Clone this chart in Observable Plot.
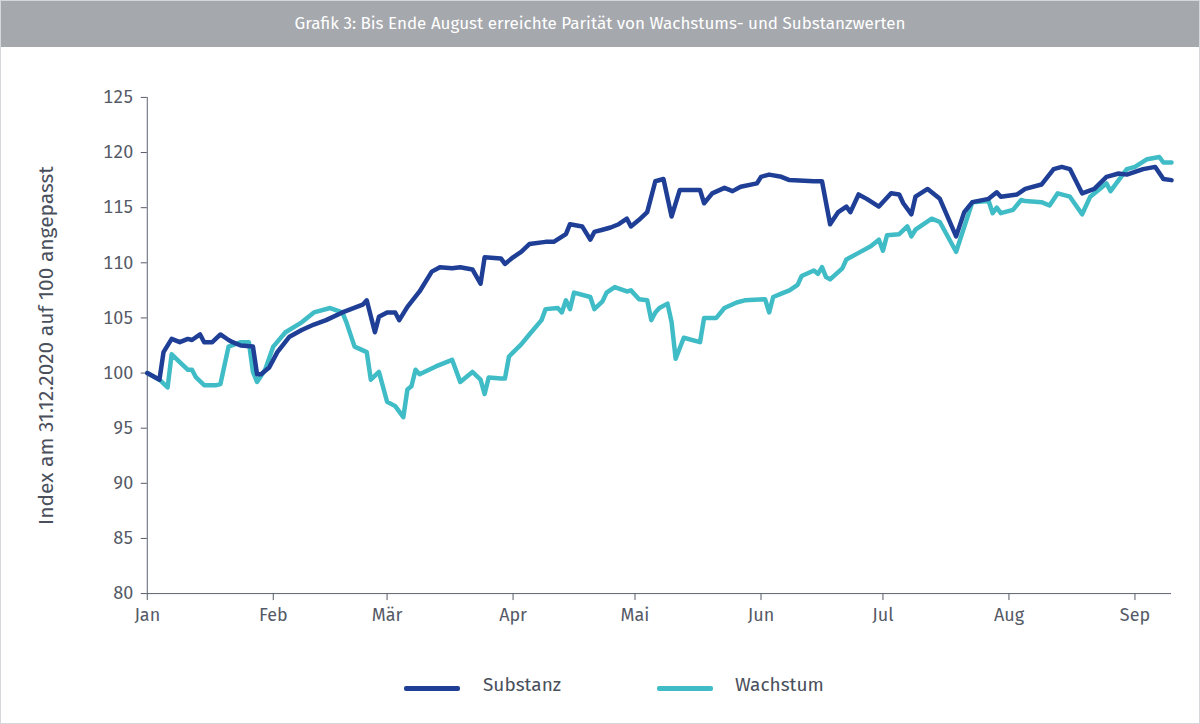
<!DOCTYPE html>
<html><head><meta charset="utf-8">
<script src="https://cdn.jsdelivr.net/npm/d3@7"></script>
<script src="https://cdn.jsdelivr.net/npm/@observablehq/plot@0.6"></script>
<style>
body{margin:0;background:#fff;font-family:"Fira Sans","Noto Sans",sans-serif;}
#wrap{position:relative;width:1198px;height:722px;border:1px solid #d5d7da;}
#title{height:46px;background:#a5a8ad;color:#fff;font-size:17px;text-align:center;line-height:46px;}
#chart{position:absolute;left:0;top:50px;}
#legend{position:absolute;top:672px;left:0;width:1200px;font-size:19px;color:#4a4f5c;}
.sw{position:absolute;top:13px;width:56px;height:5px;border-radius:2px;}
.lb{position:absolute;top:0;}
</style></head><body>
<div id="wrap">
<div id="title">Grafik 3: Bis Ende August erreichte Parität von Wachstums- und Substanzwerten</div>
<div id="chart"></div>
<div id="legend">
<div class="sw" style="left:403px;background:#1f3f96"></div><div class="lb" style="left:482px">Substanz</div>
<div class="sw" style="left:656px;background:#3fbcc6"></div><div class="lb" style="left:734px">Wachstum</div>
</div>
</div>
<script>
// x = day of year 2021 (0 = 1 Jan)
const substanzDays = [0,3,4,6,8,10,11,13,14,16,18,20,21,23,26,27,28,30,32,35,38,41,44,48,53,54,56,57,59,61,62,64,67,70,72,75,77,80,82,83,87,88,90,92,94,98,100,103,104,107,109,110,112,114,116,118,119,121,123,125,127,129,131,136,137,139,142,144,146,150,151,153,156,158,164,166,168,170,172,173,175,177,180,183,185,186,188,189,192,195,199,201,203,207,209,210,214,216,220,223,225,227,230,233,236,239,241,245,248,250,252];
const substanzValues = [100,99.4,101.9,103.1,102.8,103.1,103.0,103.5,102.8,102.8,103.5,103.0,102.8,102.5,102.4,99.9,99.9,100.5,101.9,103.3,103.9,104.4,104.8,105.5,106.2,106.6,103.7,105.1,105.5,105.5,104.8,106.0,107.4,109.2,109.6,109.5,109.6,109.4,108.1,110.5,110.4,109.9,110.5,111.0,111.7,111.9,111.9,112.6,113.5,113.3,112.1,112.8,113.0,113.2,113.5,114.0,113.3,113.9,114.6,117.4,117.6,114.2,116.6,116.6,115.4,116.3,116.8,116.5,116.9,117.2,117.8,118.0,117.8,117.5,117.4,117.4,113.5,114.6,115.1,114.6,116.2,115.8,115.1,116.3,116.2,115.4,114.4,116.0,116.7,115.8,112.4,114.6,115.5,115.8,116.4,116.0,116.2,116.7,117.1,118.5,118.7,118.5,116.3,116.7,117.8,118.1,118.0,118.5,118.7,117.6,117.5];
const wachstumDays = [0,3,5,6,10,11,12,14,17,18,20,23,25,26,27,29,31,34,38,41,45,48,49,51,54,55,57,59,61,63,64,65,66,67,71,75,77,80,82,83,84,87,88,89,92,94,97,98,101,102,103,104,105,109,110,112,113,115,118,119,121,123,124,125,126,128,129,130,132,136,137,140,142,145,147,152,153,154,156,158,160,161,164,165,166,167,168,171,172,175,178,180,181,182,185,187,188,189,193,195,199,203,207,208,209,210,213,215,216,220,222,224,227,230,232,236,237,241,243,246,249,250,252];
const wachstumValues = [100,99.4,98.7,101.7,100.3,100.3,99.6,98.9,98.9,99.0,102.4,102.8,102.8,100.1,99.2,100.3,102.4,103.7,104.6,105.5,105.9,105.5,104.6,102.4,101.9,99.4,100.1,97.4,97.0,96.0,98.5,98.8,100.3,99.9,100.6,101.2,99.2,100.1,99.4,98.1,99.6,99.5,99.5,101.5,102.6,103.5,104.8,105.8,105.9,105.5,106.6,105.8,107.3,106.9,105.8,106.5,107.3,107.8,107.4,107.5,106.7,106.6,104.8,105.5,105.9,106.3,104.6,101.3,103.2,102.8,105.0,105.0,105.9,106.4,106.6,106.7,105.5,106.9,107.2,107.5,108.0,108.8,109.3,109.0,109.6,108.7,108.5,109.5,110.3,110.9,111.5,112.1,111.1,112.5,112.6,113.3,112.4,113.0,114.0,113.7,111.0,115.5,115.6,114.5,115.0,114.5,114.8,115.7,115.6,115.5,115.2,116.3,116.0,114.4,116.0,117.2,116.5,118.5,118.7,119.4,119.6,119.1,119.1];
const monthTicks = [0,31,59,90,120,151,181,212,243];
const monthLabels = ["Jan","Feb","Mär","Apr","Mai","Jun","Jul","Aug","Sep"];
const yTicks = [80,85,90,95,100,105,110,115,120,125];

const data = [
  ...substanzDays.map((d,i)=>({day:d,value:substanzValues[i],series:"Substanz"})),
  ...wachstumDays.map((d,i)=>({day:d,value:wachstumValues[i],series:"Wachstum"}))
];
const plot = Plot.plot({
  width:1200, height:610,
  marginLeft:146, marginRight:28, marginTop:46, marginBottom:67,
  style:{fontFamily:"'Fira Sans','Noto Sans',sans-serif", fontSize:"18px", color:"#555a66", background:"transparent"},
  x:{domain:[0,252], ticks:monthTicks, tickFormat:d=>monthLabels[monthTicks.indexOf(d)], label:null, tickSize:7, tickPadding:8},
  y:{domain:[80,125], ticks:yTicks, label:null, tickSize:6, tickPadding:8},
  color:{domain:["Substanz","Wachstum"], range:["#1f3f96","#3fbcc6"]},
  marks:[
    Plot.ruleX([0],{stroke:"#5d6270"}),
    Plot.ruleY([80],{stroke:"#5d6270"}),
    Plot.line(data.filter(d=>d.series==="Wachstum"),{x:"day",y:"value",stroke:"series",strokeWidth:4.5,strokeLinejoin:"round"}),
    Plot.line(data.filter(d=>d.series==="Substanz"),{x:"day",y:"value",stroke:"series",strokeWidth:4.5,strokeLinejoin:"round"}),
    Plot.text(["Index am 31.12.2020 auf 100 angepasst"],{frameAnchor:"left",textAnchor:"middle",dx:-101,rotate:-90,fontSize:21,fill:"#4a4f5c"})
  ]
});
document.getElementById("chart").appendChild(plot);
</script>
</body></html>
